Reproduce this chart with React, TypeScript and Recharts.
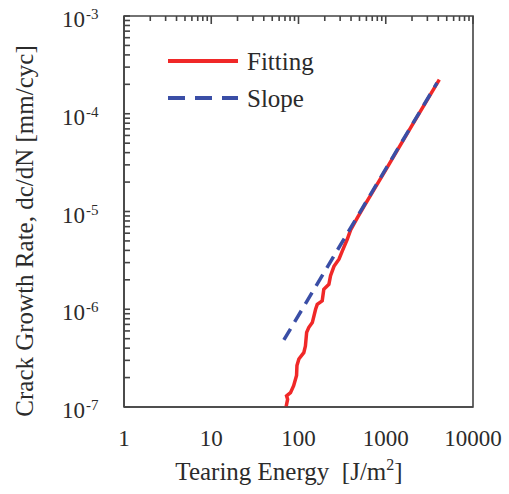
import React from 'react';
import { ComposedChart, Line, XAxis, YAxis, ReferenceArea, ReferenceLine } from 'recharts';

// Tearing energy [J/m2] vs crack growth rate [mm/cyc]
const fittingEnergy = [72, 75, 73, 81, 88, 95, 96, 101, 115, 120, 124, 131, 144, 157, 164, 187, 195, 223, 233, 255, 291, 318, 362, 396, 472, 563, 1000, 2000, 4110];
const fittingRate = [1.0e-7, 1.2e-7, 1.3e-7, 1.4e-7, 1.65e-7, 2.1e-7, 2.65e-7, 3.1e-7, 3.6e-7, 4.2e-7, 5.8e-7, 6.5e-7, 7.3e-7, 1.0e-6, 1.12e-6, 1.22e-6, 1.6e-6, 1.8e-6, 2.2e-6, 2.75e-6, 3.25e-6, 3.95e-6, 5.2e-6, 6.5e-6, 8.6e-6, 1.13e-5, 2.67e-5, 7.6e-5, 2.23e-4];

const slopeEnergy = [68, 3870];
const slopeRate = [4.85e-7, 2.07e-4];

const xMajorTicks = [1, 10, 100, 1000, 10000];
const yMajorTicks = [1e-7, 1e-6, 1e-5, 1e-4, 1e-3];
const minorSteps = [2, 3, 4, 5, 6, 7, 8, 9];

const xMinorTicks = xMajorTicks.slice(0, -1).flatMap(d => minorSteps.map(m => m * d));
const yMinorTicks = yMajorTicks.slice(0, -1).flatMap(d => minorSteps.map(m => m * d));

const fittingData = fittingEnergy.map((x, i) => ({ x, y: fittingRate[i] }));
const slopeData = slopeEnergy.map((x, i) => ({ x, y: slopeRate[i] }));

const FONT = 'Liberation Serif, Times New Roman, serif';
const TEXT = '#2b2b2b';
const AXIS = '#444';
const RED = '#f02828';
const BLUE = '#3a4ea6';

const legendItems = [
  { name: 'Fitting', color: RED, dash: undefined },
  { name: 'Slope', color: BLUE, dash: '17 10' },
];

const isMajor = (v: number) => yMajorTicks.some(m => Math.abs(v / m - 1) < 1e-6);

const LeftTick = (props: any) => {
  const { x, y, payload } = props;
  const major = isMajor(payload.value);
  const exp = Math.round(Math.log10(payload.value));
  return (
    <g>
      <line x1={x} x2={x + 6} y1={y} y2={y} stroke={AXIS} strokeWidth={1.6} />
      <text x={x - 39} y={y + 11} textAnchor="end" fontSize={23} fontFamily={FONT} fill={TEXT}>{major ? '10' : ''}</text>
      <text x={x - 38} y={y + 3} textAnchor="start" fontSize={15} fontFamily={FONT} fill={TEXT}>{major ? String(exp) : ''}</text>
    </g>
  );
};

// short inward tick marks on the top edge
const topMark = (len: number) => (p: any) => {
  const top = Math.min(p.y1, p.y2);
  return <line x1={p.x1} x2={p.x1} y1={top} y2={top + len} stroke={AXIS} strokeWidth={1.6} />;
};

export default function App() {
  return (
    <div style={{ position: 'absolute', left: 0, top: 0, width: 509, height: 494, background: '#fff' }}>
      <ComposedChart width={509} height={494} margin={{ top: 16, right: 36, bottom: 0, left: 0 }}>
        <XAxis
          xAxisId="b"
          dataKey="x"
          type="number"
          scale="log"
          domain={[1, 10000]}
          allowDataOverflow
          ticks={xMajorTicks}
          interval={0}
          tickLine={false}
          tickSize={0}
          tickMargin={23}
          height={87}
          axisLine={{ stroke: AXIS, strokeWidth: 1.6 }}
          tick={{ fontSize: 23, fontFamily: FONT, fill: TEXT }}
        />
        <YAxis
          yAxisId="l"
          type="number"
          scale="log"
          domain={[1e-7, 1e-3]}
          allowDataOverflow
          ticks={[...yMajorTicks, ...yMinorTicks]}
          interval={0}
          tickLine={false}
          tickSize={0}
          tickMargin={0}
          width={124}
          axisLine={{ stroke: AXIS, strokeWidth: 1.6 }}
          tick={<LeftTick />}
        />
        <ReferenceArea
          xAxisId="b"
          yAxisId="l"
          x1={1}
          x2={10000}
          y1={1e-7}
          y2={1e-3}
          fill="none"
          stroke={AXIS}
          strokeWidth={1.6}
          ifOverflow="visible"
        />
        {[...xMajorTicks, ...xMinorTicks].map(v => (
          <ReferenceLine
            key={`t${v}`}
            xAxisId="b"
            yAxisId="l"
            x={v}
            stroke={AXIS}
            ifOverflow="visible"
            shape={topMark(xMajorTicks.includes(v) ? 8 : 5)}
          />
        ))}
        <Line
          xAxisId="b"
          yAxisId="l"
          data={fittingData}
          dataKey="y"
          name="Fitting"
          stroke={RED}
          strokeWidth={3.5}
          dot={false}
          isAnimationActive={false}
        />
        <Line
          xAxisId="b"
          yAxisId="l"
          data={slopeData}
          dataKey="y"
          name="Slope"
          stroke={BLUE}
          strokeWidth={3.5}
          strokeDasharray="13 8"
          dot={false}
          isAnimationActive={false}
        />
        <g>
          {legendItems.map((item, i) => (
            <g key={item.name}>
              <line x1={168} x2={238} y1={61 + i * 37} y2={61 + i * 37} stroke={item.color} strokeWidth={4} strokeDasharray={item.dash} />
              <text x={247} y={70 + i * 37} fontSize={25} fontFamily={FONT} fill={TEXT}>{item.name}</text>
            </g>
          ))}
        </g>
        <text x={289} y={480} textAnchor="middle" fontSize={25} fontFamily={FONT} fill={TEXT} style={{ whiteSpace: 'pre' }}>
          <tspan>{'Tearing Energy  [J/m'}</tspan>
          <tspan dy={-10} fontSize={16}>2</tspan>
          <tspan dy={10}>]</tspan>
        </text>
        <text x={33} y={231} transform="rotate(-90, 33, 231)" textAnchor="middle" fontSize={25} fontFamily={FONT} fill={TEXT}>
          Crack Growth Rate, dc/dN [mm/cyc]
        </text>
      </ComposedChart>
    </div>
  );
}
